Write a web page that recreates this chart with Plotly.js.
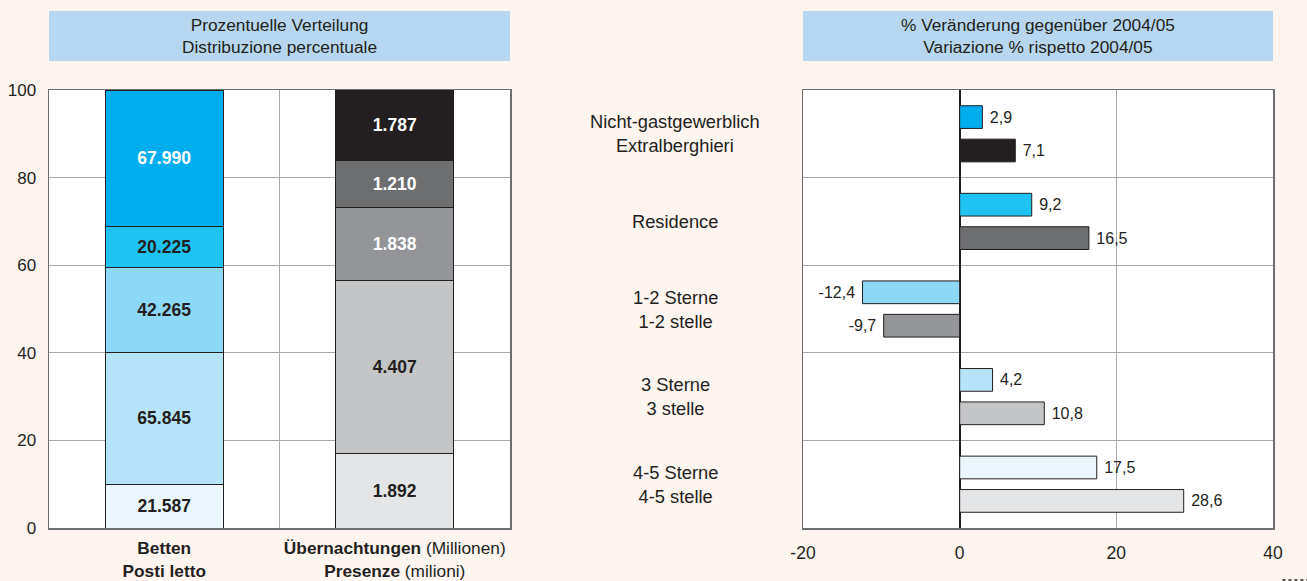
<!DOCTYPE html>
<html>
<head>
<meta charset="utf-8">
<script src="https://cdn.plot.ly/plotly-3.0.1.min.js"></script>
<style>
  html, body { margin: 0; padding: 0; background: #FEF4F0; }
  #wrap { position: relative; width: 1307px; height: 581px; overflow: hidden; }
  #left { position: absolute; left: 0; top: 0; width: 560px; height: 581px; }
  #right { position: absolute; left: 560px; top: 0; width: 747px; height: 581px; }
</style>
</head>
<body>
<div id="wrap"><div id="left"></div><div id="right"></div></div>
<script>
// ---------- DATA ----------
// accommodation categories (bottom → top in the stacked bars)
const categoryKeys = ['4-5 Sterne', '3 Sterne', '1-2 Sterne', 'Residence', 'Nicht-gastgewerblich'];
const categoryLabels = ['4-5 Sterne<br>4-5 stelle', '3 Sterne<br>3 stelle', '1-2 Sterne<br>1-2 stelle',
                        'Residence', 'Nicht-gastgewerblich<br>Extralberghieri'];
// left chart: absolute values
const beds = [21587, 65845, 42265, 20225, 67990];          // Betten / Posti letto
const nights = [1892, 4407, 1838, 1210, 1787];             // Übernachtungen / Presenze
const leftBarKeys = ['Betten', 'Übernachtungen'];
const leftBarLabels = ['<b>Betten</b><br><b>Posti letto</b>',
                       '<b>Übernachtungen</b> (Millionen)<br><b>Presenze</b> (milioni)'];
// right chart: % change vs 2004/05 (same category order)
const bedsChange = [17.5, 4.2, -12.4, 9.2, 2.9];
const nightsChange = [28.6, 10.8, -9.7, 16.5, 7.1];
const xTicks = [-20, 0, 20, 40];
const xTickText = ['-20', '0', '20', '40'];
const yTicks = [0, 20, 40, 60, 80, 100];
const leftTitle = 'Prozentuelle Verteilung<br>Distribuzione percentuale';
const rightTitle = '% Veränderung gegenüber 2004/05<br>Variazione % rispetto 2004/05';

// ---------- STYLE ----------
const bedColors = ['#EAF6FC', '#B5E3F8', '#8DD8F6', '#1EC3F2', '#00ADEE'];
const nightColors = ['#E4E5E6', '#C4C5C7', '#939598', '#6D6E70', '#231F20'];
const bedTextColors = ['#231F20', '#231F20', '#231F20', '#231F20', '#FFFFFF'];
const nightTextColors = ['#231F20', '#231F20', '#FFFFFF', '#FFFFFF', '#FFFFFF'];
const INK = '#231F20';
const GRID = '#A7A9AC';
const FRAME = '#6D6E70';
const BG = '#FEF4F0';
const HEAD = '#B6D7EF';
const FONT = 'Liberation Sans, Arial, Helvetica, sans-serif';

const fmtThousands = v => String(v).replace(/\B(?=(\d{3})+(?!\d))/g, '.');
const fmtDec = v => v.toFixed(1).replace('.', ',');

// ---------- LEFT ----------
const leftTraces = categoryKeys.map((k, i) => ({
  type: 'bar',
  name: k,
  x: leftBarKeys,
  y: [beds[i], nights[i]],
  width: 0.51,
  marker: { color: [bedColors[i], nightColors[i]], line: { color: INK, width: 1 } },
  text: [fmtThousands(beds[i]), fmtThousands(nights[i])].map(s => '<b>' + s + '</b>'),
  textposition: 'inside',
  insidetextanchor: 'middle',
  constraintext: 'none',
  textangle: 0,
  textfont: { family: FONT, size: 17.5, color: [bedTextColors[i], nightTextColors[i]] },
  hoverinfo: 'skip'
}));

const leftLayout = {
  width: 560, height: 581,
  margin: { l: 49, r: 50, t: 90, b: 53 },
  paper_bgcolor: BG, plot_bgcolor: '#FFFFFF',
  barmode: 'stack', barnorm: 'percent',
  showlegend: false,
  font: { family: FONT, size: 17, color: INK },
  xaxis: {
    type: 'category', categoryorder: 'array', categoryarray: leftBarKeys,
    tickmode: 'array', tickvals: leftBarKeys, ticktext: leftBarLabels,
    tickson: 'boundaries', showgrid: true, gridcolor: GRID, gridwidth: 1,
    ticks: 'outside', ticklen: 8, tickcolor: 'rgba(0,0,0,0)', tickangle: 0,
    ticklabelstandoff: 4,
    showline: true, mirror: true, linecolor: FRAME, linewidth: 1.5,
    tickfont: { family: FONT, size: 17.3, color: INK }
  },
  yaxis: {
    range: [0, 100], tickmode: 'array', tickvals: yTicks,
    showgrid: true, gridcolor: GRID, gridwidth: 1, zeroline: false,
    ticks: 'outside', ticklen: 8, tickcolor: 'rgba(0,0,0,0)',
    showline: true, mirror: true, linecolor: FRAME, linewidth: 1.5,
    tickfont: { family: FONT, size: 17, color: INK }
  },
  shapes: [{
    type: 'rect', xref: 'paper', yref: 'paper', x0: 0, x1: 1, y0: 1.0662, y1: 1.1804,
    fillcolor: HEAD, line: { width: 0 }, layer: 'below'
  }],
  annotations: [{
    xref: 'paper', yref: 'paper', x: 0.5, y: 1.1233, xanchor: 'center', yanchor: 'middle',
    text: leftTitle, showarrow: false, align: 'center',
    font: { family: FONT, size: 17.3, color: INK }
  }]
};

// ---------- RIGHT ----------
const topDown = categoryKeys.slice().reverse();
const rightBase = {
  type: 'bar', orientation: 'h', y: categoryKeys,
  textposition: 'outside', cliponaxis: false, constraintext: 'none',
  textfont: { family: FONT, size: 16, color: INK }, hoverinfo: 'skip'
};
const rightTraces = [
  Object.assign({}, rightBase, {
    name: 'Betten', x: bedsChange,
    marker: { color: bedColors, line: { color: INK, width: 1 } },
    text: bedsChange.map(v => v >= 0 ? '\u00a0' + fmtDec(v) : fmtDec(v) + '\u00a0')
  }),
  Object.assign({}, rightBase, {
    name: 'Übernachtungen', x: nightsChange,
    marker: { color: nightColors, line: { color: INK, width: 1 } },
    text: nightsChange.map(v => v >= 0 ? '\u00a0' + fmtDec(v) : fmtDec(v) + '\u00a0')
  })
];

const rightLayout = {
  width: 747, height: 581,
  margin: { l: 243, r: 34, t: 90, b: 53 },
  paper_bgcolor: BG, plot_bgcolor: '#FFFFFF',
  barmode: 'group', bargap: 0.237, bargroupgap: 0.32,
  showlegend: false,
  font: { family: FONT, size: 17, color: INK },
  xaxis: {
    range: [-20, 40], tickmode: 'array', tickvals: xTicks, ticktext: xTickText,
    showgrid: true, gridcolor: GRID, gridwidth: 1,
    zeroline: true, zerolinecolor: INK, zerolinewidth: 2,
    ticks: 'outside', ticklen: 8, tickcolor: 'rgba(0,0,0,0)', tickangle: 0,
    showline: true, mirror: true, linecolor: FRAME, linewidth: 1.5,
    tickfont: { family: FONT, size: 17.5, color: INK }
  },
  yaxis: {
    type: 'category', categoryorder: 'array', categoryarray: topDown,
    autorange: 'reversed', tickson: 'boundaries',
    showgrid: true, gridcolor: GRID, gridwidth: 1,
    showticklabels: false, ticks: '',
    showline: true, mirror: true, linecolor: FRAME, linewidth: 1.5
  },
  shapes: [{
    type: 'rect', xref: 'paper', yref: 'paper', x0: 0, x1: 1, y0: 1.0662, y1: 1.1804,
    fillcolor: HEAD, line: { width: 0 }, layer: 'below'
  }, {
    type: 'line', xref: 'paper', yref: 'paper', x0: 1.02, x1: 1.1, y0: -0.119, y1: -0.119,
    line: { color: INK, width: 1.5, dash: 'dot' }
  }],
  annotations: [{
    xref: 'paper', yref: 'paper', x: 0.5, y: 1.1233, xanchor: 'center', yanchor: 'middle',
    text: rightTitle, showarrow: false, align: 'center',
    font: { family: FONT, size: 17.3, color: INK }
  }].concat(categoryKeys.map((k, i) => ({
    xref: 'paper', yref: 'y', x: -0.2713, y: k, xanchor: 'center', yanchor: 'middle',
    text: categoryLabels[i], showarrow: false, align: 'center',
    font: { family: FONT, size: 18.3, color: INK }
  })))
};

const cfg = { staticPlot: true, displayModeBar: false };
Plotly.newPlot('left', leftTraces, leftLayout, cfg);
Plotly.newPlot('right', rightTraces, rightLayout, cfg);
</script>
</body>
</html>
